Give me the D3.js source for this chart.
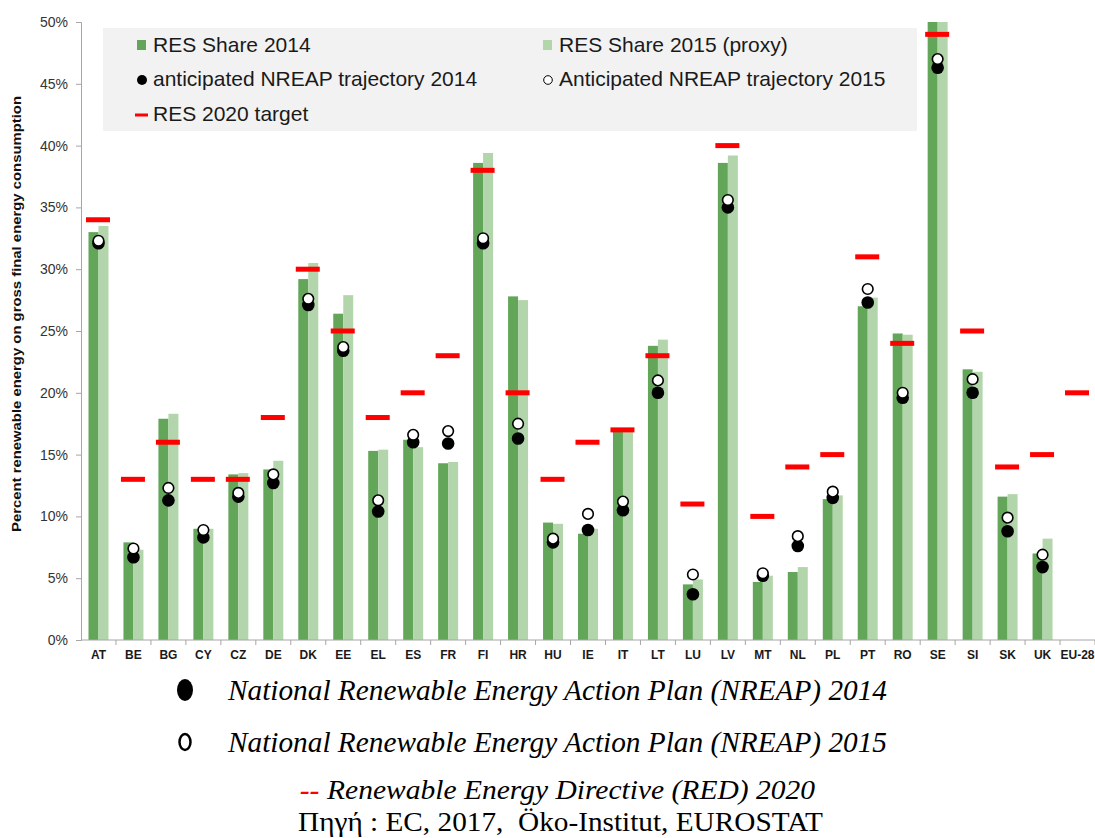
<!DOCTYPE html>
<html>
<head>
<meta charset="utf-8">
<script src="https://cdn.jsdelivr.net/npm/d3@7"></script>
<style>
  body { margin: 0; background: #fff; }
  svg { display: block; }
</style>
</head>
<body>
<svg id="chart"></svg>
<script>
// categories (member states)
var countries = ["AT","BE","BG","CY","CZ","DE","DK","EE","EL","ES","FR","FI","HR","HU","IE","IT",
  "LT","LU","LV","MT","NL","PL","PT","RO","SE","SI","SK","UK","EU-28"];

// RES share, percent
var res2014 = [33.0, 7.9, 17.9, 9.0, 13.4, 13.8, 29.2, 26.4, 15.3, 16.2, 14.3, 38.6, 27.8, 9.5, 8.6, 17.1,
  23.8, 4.5, 38.6, 4.7, 5.5, 11.4, 27.0, 24.8, 52.6, 21.9, 11.6, 7.0, null];
var res2015 = [33.5, 7.3, 18.3, 9.0, 13.5, 14.5, 30.5, 27.9, 15.4, 15.6, 14.4, 39.4, 27.5, 9.4, 9.0, 17.0,
  24.3, 4.9, 39.2, 5.2, 5.9, 11.7, 27.7, 24.7, 53.9, 21.7, 11.8, 8.2, null];

// anticipated NREAP trajectory
var nreap2014 = [32.1, 6.7, 11.3, 8.3, 11.6, 12.7, 27.1, 23.4, 10.4, 16.0, 15.9, 32.1, 16.3, 7.9, 8.9, 10.5,
  20.0, 3.7, 35.0, 5.2, 7.6, 11.5, 27.3, 19.6, 46.3, 20.0, 8.8, 5.9, null];
var nreap2015 = [32.3, 7.4, 12.3, 8.9, 11.9, 13.4, 27.6, 23.7, 11.3, 16.6, 16.9, 32.5, 17.5, 8.2, 10.2, 11.2,
  21.0, 5.3, 35.6, 5.4, 8.4, 12.0, 28.4, 20.0, 47.0, 21.1, 9.9, 6.9, null];

// RES 2020 targets
var target2020 = [34, 13, 16, 13, 13, 18, 30, 25, 18, 20, 23, 38, 20, 13, 16, 17,
  23, 11, 40, 10, 14, 15, 31, 24, 49, 25, 14, 15, 20];

var yTicks = [0, 5, 10, 15, 20, 25, 30, 35, 40, 45, 50];

var darkGreen = "#63a65a";
var lightGreen = "#b3d5ab";

var width = 1095;
var height = 838;

var svg = d3.select("#chart")
  .attr("width", width)
  .attr("height", height);

// plot area (note: "top" is taken by window.top, so use plot* names)
var plotLeft = 81, plotRight = 1095, plotTop = 22, plotBottom = 640;

var x = d3.scaleBand()
  .domain(countries)
  .range([plotLeft, plotRight]);

var sub = d3.scaleBand()
  .domain(["y2014", "y2015"])
  .range([0, x.bandwidth()])
  .paddingOuter(0.75);

var y = d3.scaleLinear()
  .domain([0, 50])
  .range([plotBottom, plotTop]);

// rows for drawing
var rows = countries.map(function(c, i) {
  return { c: c, r14: res2014[i], r15: res2015[i], n14: nreap2014[i], n15: nreap2015[i], t: target2020[i] };
});

// clip at 50%
svg.append("defs").append("clipPath")
  .attr("id", "plot-clip")
  .append("rect")
  .attr("x", plotLeft).attr("y", plotTop)
  .attr("width", plotRight - plotLeft).attr("height", plotBottom - plotTop);

// legend box (drawn first, bars sit on top of it where they overlap)
var legend = svg.append("g");
legend.append("rect")
  .attr("x", 103).attr("y", 28)
  .attr("width", 814).attr("height", 103)
  .attr("fill", "#f2f2f2");

var plot = svg.append("g").attr("clip-path", "url(#plot-clip)");

// bars
plot.selectAll(".b14")
  .data(rows.filter(d => d.r14 != null))
  .enter().append("rect")
  .attr("x", d => x(d.c) + sub("y2014"))
  .attr("y", d => y(d.r14))
  .attr("width", sub.bandwidth())
  .attr("height", d => plotBottom - y(d.r14))
  .attr("fill", darkGreen);

plot.selectAll(".b15")
  .data(rows.filter(d => d.r15 != null))
  .enter().append("rect")
  .attr("x", d => x(d.c) + sub("y2015"))
  .attr("y", d => y(d.r15))
  .attr("width", sub.bandwidth())
  .attr("height", d => plotBottom - y(d.r15))
  .attr("fill", lightGreen);

// targets
plot.selectAll(".tgt")
  .data(rows)
  .enter().append("rect")
  .attr("x", d => x(d.c) + x.bandwidth() / 2 - 12.5)
  .attr("y", d => y(d.t) - 2.5)
  .attr("width", 24)
  .attr("height", 5)
  .attr("fill", "#ff0000");

// trajectory dots
plot.selectAll(".n14")
  .data(rows.filter(d => d.n14 != null))
  .enter().append("circle")
  .attr("cx", d => x(d.c) + x.bandwidth() / 2)
  .attr("cy", d => y(d.n14))
  .attr("r", 6.3)
  .attr("fill", "#000");

plot.selectAll(".n15")
  .data(rows.filter(d => d.n15 != null))
  .enter().append("circle")
  .attr("cx", d => x(d.c) + x.bandwidth() / 2)
  .attr("cy", d => y(d.n15))
  .attr("r", 5.3)
  .attr("fill", "#fff")
  .attr("stroke", "#000")
  .attr("stroke-width", 1.6);

// y axis
var yAxis = svg.append("g")
  .attr("transform", "translate(" + plotLeft + ",0)")
  .call(d3.axisLeft(y).tickValues(yTicks).tickFormat(d => d + "%").tickSize(5).tickPadding(8));
yAxis.select(".domain").attr("stroke", "#a6a6a6");
yAxis.selectAll(".tick line").attr("stroke", "#a6a6a6");
yAxis.selectAll("text")
  .attr("font-family", "Arial, 'Liberation Sans', sans-serif")
  .attr("font-size", "14px")
  .attr("fill", "#333");

// x axis, ticks on band boundaries
var xAxis = svg.append("g")
  .attr("transform", "translate(0," + plotBottom + ")");
xAxis.append("line")
  .attr("x1", plotLeft).attr("x2", plotRight)
  .attr("stroke", "#a6a6a6");
xAxis.selectAll(".xt")
  .data(countries)
  .enter().append("line")
  .attr("x1", d => x(d) + x.bandwidth()).attr("x2", d => x(d) + x.bandwidth())
  .attr("y1", 0).attr("y2", 5)
  .attr("stroke", "#a6a6a6");
xAxis.selectAll(".xl")
  .data(countries)
  .enter().append("text")
  .attr("x", d => x(d) + x.bandwidth() / 2)
  .attr("y", 19)
  .attr("text-anchor", "middle")
  .attr("font-family", "Arial, 'Liberation Sans', sans-serif")
  .attr("font-size", "12px")
  .attr("font-weight", "bold")
  .attr("fill", "#1a1a1a")
  .text(d => d);

// y axis title
svg.append("text")
  .attr("transform", "translate(21,314) rotate(-90)")
  .attr("text-anchor", "middle")
  .attr("font-family", "Arial, 'Liberation Sans', sans-serif")
  .attr("font-size", "13px")
  .attr("font-weight", "bold")
  .attr("fill", "#111")
  .attr("textLength", 436).attr("lengthAdjust", "spacingAndGlyphs")
  .text("Percent renewable energy on gross final energy consumption");

// legend entries
var lf = "Arial, 'Liberation Sans', sans-serif";
function legText(xp, yp, t) {
  legend.append("text")
    .attr("x", xp).attr("y", yp)
    .attr("font-family", lf)
    .attr("font-size", "21px")
    .attr("fill", "#1a1a1a")
    .text(t);
}
legend.append("rect").attr("x", 137).attr("y", 40).attr("width", 9).attr("height", 10).attr("fill", darkGreen);
legText(153, 52, "RES Share 2014");
legend.append("rect").attr("x", 543).attr("y", 40).attr("width", 9).attr("height", 10).attr("fill", lightGreen);
legText(559, 52, "RES Share 2015 (proxy)");
legend.append("circle").attr("cx", 142).attr("cy", 80).attr("r", 5).attr("fill", "#000");
legText(153, 86, "anticipated NREAP trajectory 2014");
legend.append("circle").attr("cx", 548).attr("cy", 80).attr("r", 4.3).attr("fill", "#fff")
  .attr("stroke", "#000").attr("stroke-width", 1);
legText(559, 86, "Anticipated NREAP trajectory 2015");
legend.append("rect").attr("x", 135).attr("y", 113.5).attr("width", 13).attr("height", 3).attr("fill", "#ff0000");
legText(153, 121, "RES 2020 target");

// notes under the chart
var serif = "'Liberation Serif', 'Times New Roman', serif";
svg.append("ellipse").attr("cx", 185).attr("cy", 690).attr("rx", 8).attr("ry", 11).attr("fill", "#000");
svg.append("text")
  .attr("x", 228).attr("y", 700)
  .attr("font-family", serif).attr("font-style", "italic").attr("font-size", "29px")
  .attr("textLength", 659).attr("lengthAdjust", "spacingAndGlyphs")
  .text("National Renewable Energy Action Plan (NREAP) 2014");

svg.append("ellipse").attr("cx", 185).attr("cy", 742).attr("rx", 5.5).attr("ry", 8)
  .attr("fill", "#fff").attr("stroke", "#000").attr("stroke-width", 2.5);
svg.append("text")
  .attr("x", 228).attr("y", 752)
  .attr("font-family", serif).attr("font-style", "italic").attr("font-size", "29px")
  .attr("textLength", 659).attr("lengthAdjust", "spacingAndGlyphs")
  .text("National Renewable Energy Action Plan (NREAP) 2015");

var red = svg.append("text")
  .attr("x", 300).attr("y", 799)
  .attr("font-family", serif).attr("font-style", "italic").attr("font-size", "28px")
  .attr("textLength", 515).attr("lengthAdjust", "spacingAndGlyphs");
red.append("tspan").attr("fill", "#ff0000").attr("font-weight", "bold").text("--");
red.append("tspan").attr("fill", "#000").text(" Renewable Energy Directive (RED) 2020");

svg.append("text")
  .attr("x", 298).attr("y", 831)
  .attr("font-family", serif).attr("font-size", "28px")
  .attr("textLength", 525).attr("lengthAdjust", "spacingAndGlyphs")
  .attr("xml:space", "preserve")
  .text("Πηγή : EC, 2017,  Öko-Institut, EUROSTAT");
</script>
</body>
</html>
